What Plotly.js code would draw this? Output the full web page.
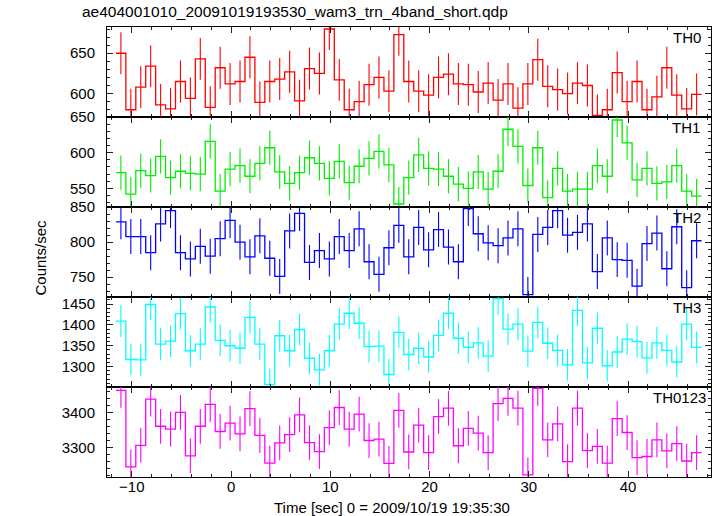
<!DOCTYPE html>
<html><head><meta charset="utf-8">
<script src="https://cdn.plot.ly/plotly-3.0.1.min.js"></script>
<style>html,body{margin:0;padding:0;background:#fff}</style>
</head><body><div id="chart" style="width:717px;height:516px"></div>
<script>
const time = [-11.1,-10.1,-9.1,-8.1,-7.1,-6.1,-5.1,-4.1,-3.1,-2.1,-1.1,-0.1,0.9,1.9,2.9,3.9,4.9,5.9,6.9,7.9,8.9,9.9,10.9,11.9,12.9,13.9,14.9,15.9,16.9,17.9,18.9,19.9,20.9,21.9,22.9,23.9,24.9,25.9,26.9,27.9,28.9,29.9,30.9,31.9,32.9,33.9,34.9,35.9,36.9,37.9,38.9,39.9,40.9,41.9,42.9,43.9,44.9,45.9,46.9];
const th0 = [650,580,608,634,586,581,615,594,643,583,632,612,615,645,589,615,618,627,591,631,625,680,617,580,590,611,620,603,673,615,603,598,620,624,612,611,602,613,592,612,582,612,642,609,605,600,613,610,573,580,626,590,615,580,596,632,598,581,599];
const th1 = [572,542,575,568,595,565,574,571,570,616,546,577,582,567,585,607,573,557,572,593,585,564,588,558,581,592,602,583,528,565,597,578,577,567,556,550,573,549,574,633,609,554,607,537,578,546,549,549,582,567,646,614,562,578,557,559,582,546,539];
const th2 = [829,808,808,785,826,845,785,776,794,780,805,831,800,779,809,777,751,816,841,771,788,776,808,788,819,772,754,792,824,779,821,789,818,793,772,848,812,799,795,806,819,725,811,821,845,810,814,826,758,806,775,774,737,798,813,762,822,735,802];
const th3 = [1409,1317,1316,1449,1354,1361,1427,1338,1354,1443,1363,1350,1344,1418,1354,1257,1374,1338,1389,1320,1292,1338,1402,1428,1404,1348,1349,1281,1382,1329,1344,1323,1375,1428,1368,1346,1357,1325,1463,1390,1402,1337,1406,1356,1339,1304,1435,1309,1392,1302,1335,1366,1360,1321,1357,1339,1311,1402,1346];
const th0123 = [3464,3244,3306,3439,3361,3353,3401,3276,3361,3424,3346,3370,3339,3412,3335,3255,3313,3337,3394,3314,3288,3357,3415,3353,3396,3320,3324,3254,3407,3287,3364,3285,3389,3413,3305,3355,3341,3285,3426,3441,3413,3221,3470,3322,3368,3259,3413,3291,3303,3255,3383,3343,3271,3274,3322,3290,3311,3261,3285];
const bandNames = ['TH0','TH1','TH2','TH3','TH0123'];
const bandErrors = [26,24,25,38,50];
const binWidth = 1.0;
const titleText = 'ae404001010_20091019193530_wam3_trn_4band_short.qdp';
const xTitleText = 'Time [sec] 0 = 2009/10/19 19:35:30';
const yTitleText = 'Counts/sec';

const series = [th0, th1, th2, th3, th0123];
const colors = ['#ff0000','#00ee00','#0000ff','#00ffff','#ff00ff'];
const yRanges = [[571,682.5],[523.8,650.2],[721.6,850.2],[1251,1467],[3215,3474]];
const yDticks = [50,50,50,50,100];
const yMinor = [10,10,10,10,20];
const labelX = [703,702,703,703,708];

const FONT = 'Liberation Sans, Arial, sans-serif';
const L = 107, R = 6, T = 27, B = 39, W = 717, H = 516;
const plotW = W - L - R;

const traces = [];
const layout = {
  width: W, height: H,
  margin: {l: L, r: R, t: T, b: B, pad: 0},
  paper_bgcolor: '#fff', plot_bgcolor: '#fff',
  showlegend: false,
  font: {family: FONT, size: 15, color: '#000'},
  title: {text: titleText, x: 82/W, xanchor: 'left', xref: 'container', y: 1 - 12/H, yanchor: 'middle', yref: 'container', font: {family: FONT, size: 15.5, color: '#000'}},
  annotations: []
};

series.forEach((vals, k) => {
  const n = k + 1;
  const xa = 'x' + (n === 1 ? '' : n), ya = 'y' + (n === 1 ? '' : n);
  const edges = time.map(t => t - binWidth / 2);
  edges.push(time[time.length - 1] + binWidth / 2);
  const stepY = vals.slice(); stepY.push(vals[vals.length - 1]);
  traces.push({type: 'scatter', mode: 'lines', x: edges, y: stepY, xaxis: xa, yaxis: ya,
    line: {shape: 'hv', color: colors[k], width: 1.3}, hoverinfo: 'skip'});
  traces.push({type: 'scatter', mode: 'markers', x: time, y: vals, xaxis: xa, yaxis: ya,
    marker: {size: 0.1, color: colors[k], opacity: 0},
    error_y: {type: 'constant', value: bandErrors[k], width: 0, thickness: 1.1, color: colors[k]}, hoverinfo: 'skip'});
  const top = 1 - k * 0.2, bot = 1 - (k + 1) * 0.2;
  const axCommon = {showline: true, linecolor: '#000', linewidth: 1, mirror: 'allticks', ticks: 'inside',
    ticklen: 6, tickwidth: 1, tickcolor: '#222', showgrid: false, zeroline: false,
    tickfont: {family: FONT, size: 15, color: '#000'}};
  layout['xaxis' + (n === 1 ? '' : n)] = Object.assign({}, axCommon, {
    anchor: ya, domain: [0, 1], range: [-12.5, 48.35], dtick: 10, tick0: 0,
    minor: {dtick: 2, ticklen: 3, ticks: 'inside', tickcolor: '#222'},
    showticklabels: k === 4, ticklabelstandoff: -4,
    matches: n === 1 ? undefined : 'x'
  });
  layout['yaxis' + (n === 1 ? '' : n)] = Object.assign({}, axCommon, {
    anchor: xa, domain: [bot, top], range: yRanges[k], dtick: yDticks[k], tick0: 0,
    minor: {dtick: yMinor[k], ticklen: 3, ticks: 'inside', tickcolor: '#222'},
    ticklabelstandoff: 8
  });
  layout.annotations.push({text: bandNames[k], xref: 'paper', x: (labelX[k] - L) / plotW, xanchor: 'right',
    yref: ya + ' domain', y: 1 - 10 / 89.9, yanchor: 'middle', showarrow: false,
    font: {family: FONT, size: 15, color: '#000'}});
});
layout.annotations.push({text: xTitleText, xref: 'paper', x: (392 - L) / plotW, xanchor: 'center',
  yref: 'paper', y: -(507 - 476.7) / 449.4, yanchor: 'middle', showarrow: false,
  font: {family: FONT, size: 15, color: '#000'}});
layout.annotations.push({text: yTitleText, xref: 'paper', x: (41 - L) / plotW, xanchor: 'center',
  yref: 'paper', y: 1 - (257.5 - 27.3) / 449.4, yanchor: 'middle', textangle: -90, showarrow: false,
  font: {family: FONT, size: 15, color: '#000'}});

Plotly.newPlot('chart', traces, layout, {staticPlot: true, displayModeBar: false});
</script></body></html>
